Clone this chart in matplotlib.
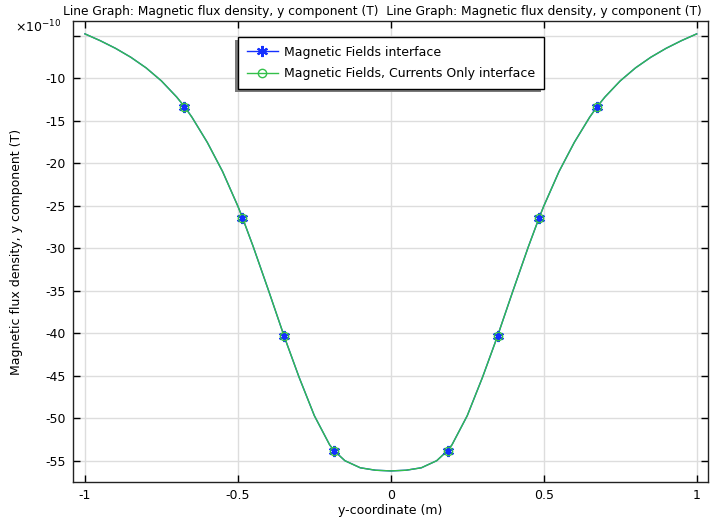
import matplotlib
matplotlib.use("Agg")
import matplotlib.pyplot as plt
from matplotlib.patches import Rectangle

# Curve data (y in units of 1e-10 T)
x_curve = [-1.00, -0.95, -0.90, -0.85, -0.80, -0.75, -0.70, -0.673, -0.65, -0.60,
           -0.55, -0.50, -0.485, -0.45, -0.40, -0.349, -0.30, -0.25, -0.20, -0.186,
           -0.15, -0.10, -0.05, 0.0,
           0.05, 0.10, 0.15, 0.186, 0.20, 0.25, 0.30, 0.349, 0.40, 0.45,
           0.485, 0.50, 0.55, 0.60, 0.65, 0.673, 0.70, 0.75, 0.80, 0.85, 0.90, 0.95, 1.00]
y_curve = [-4.79, -5.59, -6.49, -7.54, -8.79, -10.32, -12.22, -13.42, -14.6, -17.55,
           -20.98, -25.06, -26.41, -29.8, -34.95, -40.33, -45.17, -49.70, -53.13, -53.8,
           -55.0, -55.83, -56.12, -56.2,
           -56.12, -55.83, -55.0, -53.8, -53.13, -49.70, -45.17, -40.33, -34.95, -29.8,
           -26.41, -25.06, -20.98, -17.55, -14.6, -13.42, -12.22, -10.32, -8.79, -7.54, -6.49, -5.59, -4.79]

# Marker positions
x_marks = [-0.675, -0.485, -0.349, -0.186, 0.186, 0.349, 0.485, 0.675]
y_marks = [-13.4, -26.4, -40.3, -53.8, -53.8, -40.3, -26.4, -13.4]

series_labels = ["Magnetic Fields interface", "Magnetic Fields, Currents Only interface"]
title_text = "Line Graph: Magnetic flux density, y component (T)  Line Graph: Magnetic flux density, y component (T)"
x_ticks = [-1, -0.5, 0, 0.5, 1]
x_ticklabels = ["-1", "-0.5", "0", "0.5", "1"]
y_ticks = [-55, -50, -45, -40, -35, -30, -25, -20, -15, -10, -5]
y_ticklabels = ["-55", "-50", "-45", "-40", "-35", "-30", "-25", "-20", "-15", "-10", ""]

plt.rcParams['font.family'] = ['DejaVu Sans']
fs = 9

fig = plt.figure(figsize=(7.11, 5.18), dpi=100)
ax = fig.add_axes([72.7/711, 1-482.3/518, (708.3-72.7)/711, (482.3-20.7)/518])

blue = '#1530ff'
green = '#33c04a'

# blue series
ax.plot(x_curve, y_curve, color=blue, lw=1.0, zorder=2)
ax.plot(x_marks, y_marks, linestyle='none', marker=(6, 2, 0), markersize=8,
        markeredgewidth=1.5, color=blue, zorder=3)
# green series
ax.plot(x_curve, y_curve, color=green, lw=1.0, zorder=2.5)
ax.plot(x_marks, y_marks, linestyle='none', marker='o', markersize=6,
        markerfacecolor='none', markeredgewidth=1.0, markeredgecolor=green, zorder=3.5)

# legend proxies
h1, = ax.plot([], [], color=blue, lw=1.0, marker=(6, 2, 0), markersize=8, markeredgewidth=1.5)
h2, = ax.plot([], [], color=green, lw=1.0, marker='o', markersize=6,
              markerfacecolor='none', markeredgewidth=1.0)

ax.set_xlim(-1.04, 1.038)
ax.set_ylim(-57.54, -3.24)
ax.set_xticks(x_ticks)
ax.set_xticklabels(x_ticklabels)
ax.set_yticks(y_ticks)
ax.set_yticklabels(y_ticklabels)
ax.tick_params(direction='in', length=5, width=1, top=True, right=True,
               labelsize=fs, colors='black', pad=5)
ax.grid(True, color='#dddddd', lw=1)
ax.set_axisbelow(True)
for s in ax.spines.values():
    s.set_color('#222222')
    s.set_linewidth(1.0)

ax.set_title(title_text, fontsize=8.85, pad=4, x=0.488)
ax.set_xlabel("y-coordinate (m)", fontsize=fs, labelpad=1)
ax.set_ylabel("Magnetic flux density, y component (T)", fontsize=fs, labelpad=16)
ax.text(-0.018, 0.975, r"$\times$10$^{-10}$", transform=ax.transAxes, ha='right',
        va='baseline', fontsize=fs)

leg = ax.legend([h1, h2], series_labels, loc='upper left', bbox_to_anchor=(0.260, 0.9647),
                borderaxespad=0, fontsize=fs, fancybox=False, framealpha=1,
                edgecolor='black', handlelength=2.5, handletextpad=0.5, borderpad=0.7,
                labelspacing=0.66)
leg.get_frame().set_linewidth(1.0)
leg.set_zorder(5)

fig.canvas.draw()
bb = leg.get_frame().get_window_extent()
inv = ax.transAxes.inverted()
(x0, y0) = inv.transform((bb.x0 - 3, bb.y0 - 3))
(x1, y1) = inv.transform((bb.x1 - 3, bb.y1 - 3))
shadow = Rectangle((x0, y0), x1 - x0, y1 - y0, transform=ax.transAxes,
                   facecolor='#7a7a7a', edgecolor='none', zorder=4.9, clip_on=False)
ax.add_artist(shadow)

fig.savefig("out.png", dpi=100)
